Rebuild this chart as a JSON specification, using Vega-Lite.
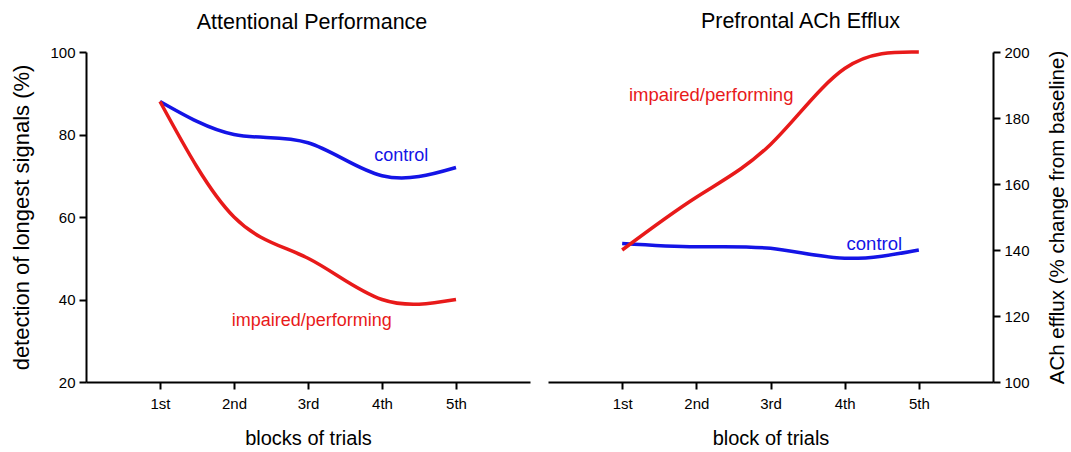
{
  "$schema": "https://vega.github.io/schema/vega-lite/v6.json",
  "padding": {"left": 10, "top": 11, "right": 0, "bottom": 0},
  "config": {
    "font": "Liberation Sans",
    "view": {"stroke": null},
    "axis": {"domainColor": "black", "domainWidth": 2, "tickColor": "black", "tickWidth": 2, "tickSize": 7, "labelColor": "black", "titleColor": "black", "grid": false, "labelFontSize": 15, "titleFontSize": 20, "titleFontWeight": "normal", "labelPadding": 4},
    "title": {"fontSize": 21.5, "fontWeight": "normal", "color": "black"},
    "concat": {"spacing": 18}
  },
  "datasets": {
    "left": [
      {"group": "control", "block": 1, "value": 88},
      {"group": "control", "block": 2, "value": 80},
      {"group": "control", "block": 3, "value": 78},
      {"group": "control", "block": 4, "value": 70},
      {"group": "control", "block": 5, "value": 72},
      {"group": "impaired/performing", "block": 1, "value": 88},
      {"group": "impaired/performing", "block": 2, "value": 60},
      {"group": "impaired/performing", "block": 3, "value": 50},
      {"group": "impaired/performing", "block": 4, "value": 40},
      {"group": "impaired/performing", "block": 5, "value": 40}
    ],
    "right": [
      {"group": "control", "block": 1, "value": 142},
      {"group": "control", "block": 2, "value": 141},
      {"group": "control", "block": 3, "value": 140.5},
      {"group": "control", "block": 4, "value": 137.5},
      {"group": "control", "block": 5, "value": 140},
      {"group": "impaired/performing", "block": 1, "value": 140},
      {"group": "impaired/performing", "block": 2, "value": 156},
      {"group": "impaired/performing", "block": 3, "value": 172},
      {"group": "impaired/performing", "block": 4, "value": 195},
      {"group": "impaired/performing", "block": 5, "value": 200}
    ],
    "leftLabels": [
      {"group": "control", "block": 4.26, "value": 74.8},
      {"group": "impaired/performing", "block": 3.05, "value": 34.8}
    ],
    "rightLabels": [
      {"group": "control", "block": 4.4, "value": 141.7},
      {"group": "impaired/performing", "block": 2.2, "value": 187}
    ]
  },
  "hconcat": [
    {
      "width": 444,
      "height": 330,
      "title": {"text": "Attentional Performance", "anchor": "middle", "offset": 12, "dx": 4},
      "layer": [
        {
          "data": {"name": "left"},
          "mark": {"type": "line", "interpolate": "natural", "strokeWidth": 3.5},
          "encoding": {
            "x": {"field": "block", "type": "quantitative", "scale": {"domain": [0, 6], "nice": false}, "axis": {"values": [1, 2, 3, 4, 5], "labelExpr": "['','1st','2nd','3rd','4th','5th'][datum.value]", "title": "blocks of trials", "titlePadding": 17, "labelPadding": 7}},
            "y": {"field": "value", "type": "quantitative", "scale": {"domain": [20, 100], "nice": false, "zero": false}, "axis": {"values": [20, 40, 60, 80, 100], "title": "detection of longest signals (%)", "titleFontSize": 22, "titlePadding": 16}},
            "color": {"field": "group", "type": "nominal", "scale": {"domain": ["control", "impaired/performing"], "range": ["#1414e6", "#e81a1a"]}, "legend": null}
          }
        },
        {
          "data": {"name": "leftLabels"},
          "mark": {"type": "text", "fontSize": 18, "align": "center", "baseline": "middle"},
          "encoding": {
            "x": {"field": "block", "type": "quantitative"},
            "y": {"field": "value", "type": "quantitative"},
            "text": {"field": "group"},
            "color": {"field": "group", "type": "nominal", "legend": null}
          }
        }
      ]
    },
    {
      "width": 445,
      "height": 330,
      "title": {"text": "Prefrontal ACh Efflux", "anchor": "middle", "offset": 12, "dx": 30},
      "layer": [
        {
          "data": {"name": "right"},
          "mark": {"type": "line", "interpolate": "natural", "strokeWidth": 3.5},
          "encoding": {
            "x": {"field": "block", "type": "quantitative", "scale": {"domain": [0, 6], "nice": false}, "axis": {"values": [1, 2, 3, 4, 5], "labelExpr": "['','1st','2nd','3rd','4th','5th'][datum.value]", "title": "block of trials", "titlePadding": 17, "labelPadding": 7}},
            "y": {"field": "value", "type": "quantitative", "scale": {"domain": [100, 200], "nice": false, "zero": false}, "axis": {"orient": "right", "values": [100, 120, 140, 160, 180, 200], "title": "ACh efflux (% change from baseline)", "titleFontSize": 20.5, "titleAngle": 270, "titleBaseline": "top", "titlePadding": 18}},
            "color": {"field": "group", "type": "nominal", "scale": {"domain": ["control", "impaired/performing"], "range": ["#1414e6", "#e81a1a"]}, "legend": null}
          }
        },
        {
          "data": {"name": "rightLabels"},
          "mark": {"type": "text", "fontSize": 18.5, "align": "center", "baseline": "middle"},
          "encoding": {
            "x": {"field": "block", "type": "quantitative"},
            "y": {"field": "value", "type": "quantitative"},
            "text": {"field": "group"},
            "color": {"field": "group", "type": "nominal", "legend": null}
          }
        }
      ]
    }
  ]
}
